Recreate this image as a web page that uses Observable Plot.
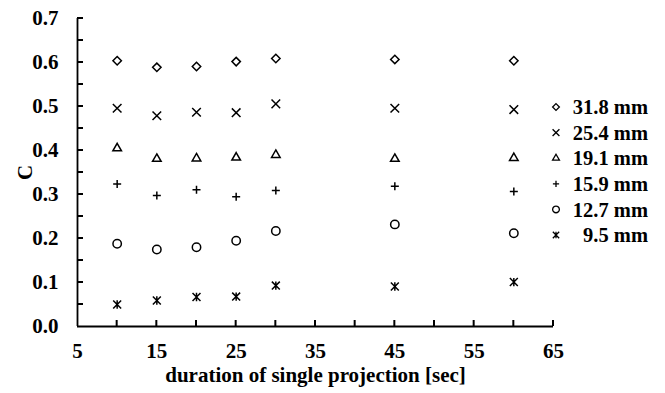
<!DOCTYPE html>
<html>
<head>
<meta charset="utf-8">
<script src="https://cdn.jsdelivr.net/npm/d3@7"></script>
<script src="https://cdn.jsdelivr.net/npm/@observablehq/plot@0.6"></script>
<style>
  html, body { margin: 0; padding: 0; background: #fff; }
  #chart svg { display: block; }
</style>
</head>
<body>
<div id="chart"></div>
<script>
// Data
const durations = [10, 15, 20, 25, 30, 45, 60];
const c318 = [0.604, 0.589, 0.591, 0.602, 0.609, 0.607, 0.604];
const c254 = [0.496, 0.479, 0.487, 0.486, 0.506, 0.496, 0.493];
const c191 = [0.405, 0.381, 0.382, 0.384, 0.390, 0.381, 0.383];
const c159 = [0.324, 0.298, 0.311, 0.295, 0.309, 0.319, 0.307];
const c127 = [0.188, 0.175, 0.180, 0.195, 0.217, 0.232, 0.212];
const c095 = [0.050, 0.059, 0.067, 0.068, 0.093, 0.091, 0.101];
const seriesLabels = ["31.8 mm", "25.4 mm", "19.1 mm", "15.9 mm", "12.7 mm", "9.5 mm"];
const xTickLabels = [5, 15, 25, 35, 45, 55, 65];
const xTickMarks = [10, 15, 20, 25, 30, 35, 40, 45, 50, 55, 60, 65];
const yTickLabels = [0, 0.1, 0.2, 0.3, 0.4, 0.5, 0.6, 0.7];
const yTickMarks = [0.05, 0.1, 0.15, 0.2, 0.25, 0.3, 0.35, 0.4, 0.45, 0.5, 0.55, 0.6, 0.65, 0.7];

// "×" with a vertical bar (ж-like) marker
const starX = {
  draw(context, size) {
    const r = Math.sqrt(size) * 0.56;
    context.moveTo(-r, -r); context.lineTo(r, r);
    context.moveTo(r, -r); context.lineTo(-r, r);
    context.moveTo(0, -r * 1.05); context.lineTo(0, r * 1.05);
  }
};
const seriesValues = [c318, c254, c191, c159, c127, c095];
const seriesSymbols = [d3.symbolDiamond2, d3.symbolTimes, d3.symbolTriangle2, d3.symbolPlus, d3.symbolCircle, starX];
const seriesR = [3.8, 4.0, 4.1, 2.7, 4.2, 4.0];

const W = 665, H = 393, ML = 77, MR = 112, MT = 18, MB = 67, TICK = 6;
const font = "'Liberation Serif', 'Times New Roman', serif";

const dotMarks = seriesValues.map((vals, k) =>
  Plot.dot(durations.map((d, i) => ({x: d, y: vals[i]})), {
    x: "x", y: "y", symbol: seriesSymbols[k], r: seriesR[k],
    stroke: "#000", fill: "none", strokeWidth: 1.5
  })
);

const svg = Plot.plot({
  width: W,
  height: H,
  marginLeft: ML,
  marginRight: MR,
  marginTop: MT,
  marginBottom: MB,
  style: {fontFamily: font, fontWeight: "bold", fontSize: "21px", color: "#000", background: "#fff"},
  x: {domain: [5, 65]},
  y: {domain: [0, 0.7]},
  marks: [
    Plot.axisX({ticks: xTickLabels, tickSize: 0, tickPadding: 17, tickFormat: d => String(d),
      label: "duration of single projection [sec]", labelAnchor: "center", labelArrow: "none", labelOffset: 55,
      fontSize: 21, fontWeight: "bold"}),
    Plot.axisY({ticks: yTickLabels, tickSize: 0, tickPadding: 19, tickFormat: d => d.toFixed(1),
      label: "C", labelAnchor: "center", labelArrow: "none", labelOffset: 60,
      fontSize: 21, fontWeight: "bold"}),
    Plot.ruleX([5], {strokeWidth: 1.8}),
    Plot.ruleY([0], {strokeWidth: 1.8}),
    ...dotMarks
  ]
});

// Inward tick marks, positioned with the plot's own scales
const xs = svg.scale("x"), ys = svg.scale("y");
const x0 = xs.apply(5), y0 = ys.apply(0);
const ticks = d3.select(svg).append("g").attr("stroke", "#000").attr("stroke-width", 2);
xTickMarks.forEach(v => {
  const px = xs.apply(v);
  ticks.append("line").attr("x1", px).attr("x2", px).attr("y1", y0).attr("y2", y0 - TICK);
});
yTickMarks.forEach(v => {
  const py = ys.apply(v);
  ticks.append("line").attr("x1", x0).attr("x2", x0 + TICK).attr("y1", py).attr("y2", py);
});

// Legend on the right
const legend = d3.select(svg).append("g").attr("font-family", font).attr("font-weight", "bold").attr("font-size", 20.5);
const legendX = 556, legendTextX = 648, legendY0 = 107, legendDy = 25.6;
seriesLabels.forEach((lab, k) => {
  const y = legendY0 + k * legendDy;
  legend.append("path")
    .attr("transform", `translate(${legendX},${y})`)
    .attr("d", d3.symbol(seriesSymbols[k], Math.PI * Math.pow(seriesR[k] * 0.8, 2))())
    .attr("fill", "none").attr("stroke", "#000").attr("stroke-width", 1.3);
  legend.append("text")
    .attr("x", legendTextX).attr("y", y).attr("dy", "0.35em")
    .attr("text-anchor", "end").attr("fill", "#000")
    .text(lab);
});

document.getElementById("chart").appendChild(svg);
</script>
</body>
</html>
